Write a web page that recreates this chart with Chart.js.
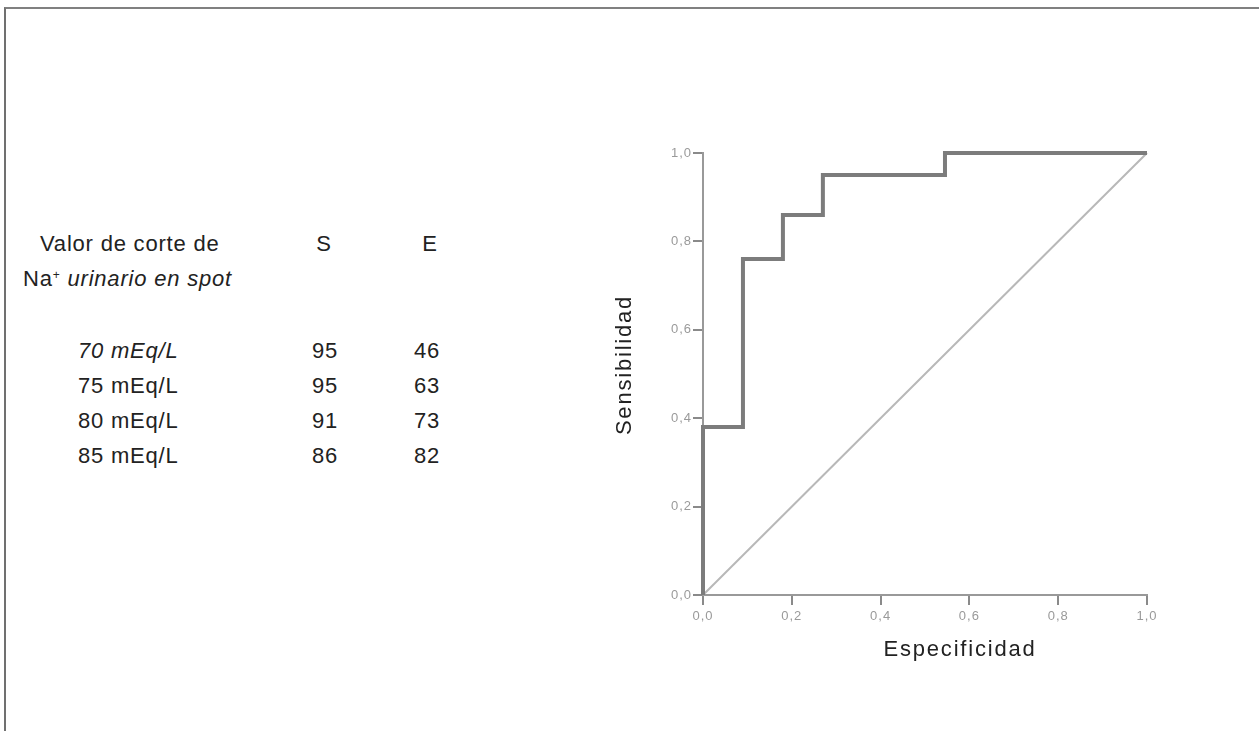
<!DOCTYPE html>
<html>
<head>
<meta charset="utf-8">
<script src="https://cdn.jsdelivr.net/npm/chart.js@4.4.1/dist/chart.umd.min.js"></script>
<style>
  body { margin: 0; background: #fff; font-family: "Liberation Sans", Arial, sans-serif; }
  .frame { position: absolute; left: 4px; top: 7px; width: 1300px; height: 800px;
           border-top: 2px solid #808080; border-left: 2px solid #707070; }
  .txt { position: absolute; font-size: 22px; line-height: 26px; color: #222; letter-spacing: 0.8px; white-space: nowrap; }
  .num { text-align: center; width: 60px; }
  sup { font-size: 12px; vertical-align: 7px; line-height: 0; }
  #chart { position: absolute; left: 0; top: 0; }
</style>
</head>
<body>
<div class="frame"></div>
<div id="table"></div>
<canvas id="chart" width="1259" height="731"></canvas>
<script>
// table on the left
const cutoffs = ['70 mEq/L', '75 mEq/L', '80 mEq/L', '85 mEq/L'];
const sValues = [95, 95, 91, 86];
const eValues = [46, 63, 73, 82];

// ROC curve points
const specPoints = [0, 0, 0.09, 0.18, 0.27, 0.545, 1];
const sensPoints = [0, 0.38, 0.76, 0.86, 0.95, 1, 1];
const refX = [0, 1];
const refY = [0, 1];
const tickLabels = ['0,0', '0,2', '0,4', '0,6', '0,8', '1,0'];
const xTitle = 'Especificidad';
const yTitle = 'Sensibilidad';

//Build the table
var table = document.getElementById('table')
function addText(html, left, top, cls) {
    var d = document.createElement('div')
    d.className = 'txt ' + (cls || '')
    d.style.left = left + 'px'
    d.style.top = top + 'px'
    d.innerHTML = html
    table.appendChild(d)
}
addText('Valor de corte de', 40, 231)
addText('Na<sup>+</sup> <i>urinario en spot</i>', 23, 266)
addText('S', 294, 231, 'num')
addText('E', 400, 231, 'num')
cutoffs.forEach(function(c, i) {
    var top = 338 + i * 35
    addText(i == 0 ? '<i>' + c + '</i>' : c, 78, top)
    addText(sValues[i], 295, top, 'num')
    addText(eValues[i], 397, top, 'num')
})

//Axis titles drawn by hand so they can sit where the original has them
const axisTitles = {
    id: 'axisTitles',
    beforeDraw(chart) { chart.ctx.letterSpacing = '1px' },
    afterDraw(chart) {
        const ctx = chart.ctx, a = chart.chartArea
        ctx.save()
        ctx.font = '22px "Liberation Sans", Arial, sans-serif'
        ctx.fillStyle = '#222'
        ctx.letterSpacing = '1.8px'
        ctx.textAlign = 'center'
        ctx.textBaseline = 'middle'
        ctx.fillText(xTitle, (a.left + a.right) / 2 + 35, a.bottom + 55)
        ctx.translate(a.left - 78, (a.top + a.bottom) / 2 - 9)
        ctx.rotate(-Math.PI / 2)
        ctx.fillText(yTitle, 0, 0)
        ctx.restore()
    }
}

var axisStyle = {
    type: 'linear',
    min: 0,
    max: 1,
    grid: { drawOnChartArea: false, drawTicks: true, tickLength: 10, color: '#8a8a8a', lineWidth: 2 },
    border: { display: true, color: '#999', width: 2 },
    ticks: {
        stepSize: 0.2,
        color: '#9a9a9a',
        font: { size: 13, family: '"Liberation Sans", Arial, sans-serif' },
        callback: function(v, i) { return tickLabels[i] }
    }
}

var ctx = document.getElementById('chart').getContext('2d');
var myChart = new Chart(ctx, {
    type: 'line',
    data: {
        datasets: [{
            data: specPoints.map(function(x, i) { return { x: x, y: sensPoints[i] } }),
            stepped: 'before',
            borderColor: '#7c7c7c',
            borderWidth: 4,
            pointRadius: 0,
            fill: false,
            clip: 6
        }, {
            data: refX.map(function(x, i) { return { x: x, y: refY[i] } }),
            borderColor: '#b8b8b8',
            borderWidth: 2,
            pointRadius: 0,
            fill: false,
            clip: 6
        }]
    },
    options: {
        responsive: false,
        animation: false,
        layout: { padding: { left: 560, top: 153, right: 112, bottom: 56 } },
        plugins: { legend: { display: false }, tooltip: { enabled: false } },
        scales: {
            x: Object.assign({}, axisStyle, {
                position: 'bottom',
                ticks: Object.assign({}, axisStyle.ticks, { padding: 4, maxRotation: 0 }),
                afterFit: function(s) { s.height = 80 }
            }),
            y: Object.assign({}, axisStyle, {
                position: 'left',
                ticks: Object.assign({}, axisStyle.ticks, { padding: 1 }),
                afterFit: function(s) { s.width = 143 }
            })
        }
    },
    plugins: [axisTitles]
});
</script>
</body>
</html>
